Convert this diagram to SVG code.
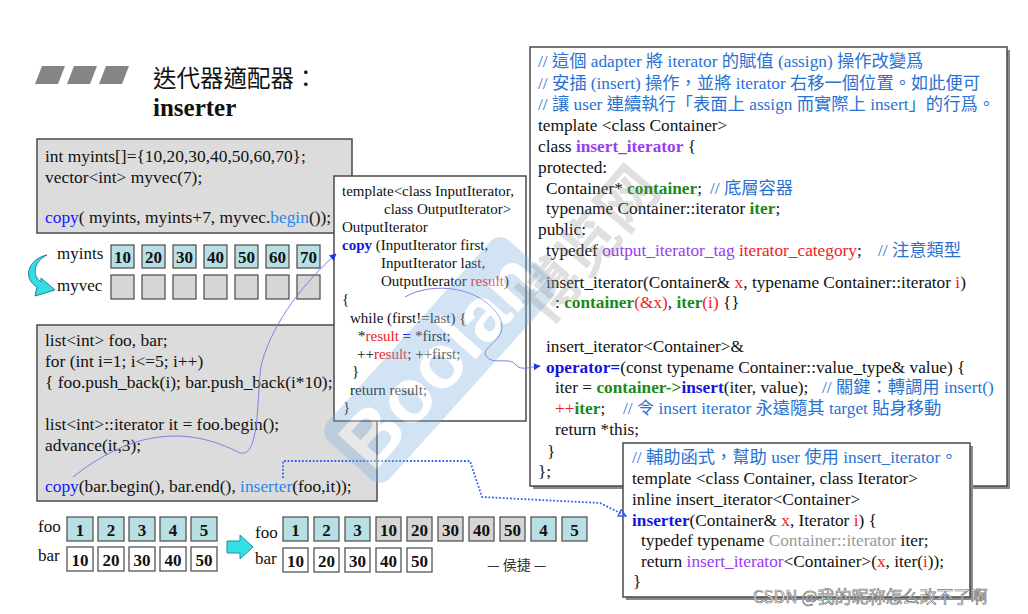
<svg xmlns="http://www.w3.org/2000/svg" width="1028" height="614" viewBox="0 0 1028 614">
<defs>
<style>
text{font-family:"Liberation Serif","Noto Sans CJK TC",serif;fill:#111;}
.c17{font-size:17.4px;}
.c16{font-size:17.3px;}
.c15{font-size:15px;}
.grey{fill:#dcdcdc;stroke:#4a4a4a;stroke-width:1.5;}
.white{fill:#fff;stroke:#4a4a4a;stroke-width:1.5;}
.shadow{fill:#8a8a8a;}
.cm{fill:#2a72d2;}
.blue{fill:#1515ff;}
.lblue{fill:#2b86ea;}
.bblue{fill:#1414e0;font-weight:bold;}
.red{fill:#ee2222;}
.green{fill:#198a19;font-weight:bold;}
.purple{fill:#9a3cf0;}
.bpurple{fill:#9a3cf0;font-weight:bold;}
.gtxt{fill:#999;}
.teal{fill:#b8dfe3;stroke:#555;stroke-width:1.3;}
.gcell{fill:#d6d6d6;stroke:#555;stroke-width:1.3;}
.wcell{fill:#fff;stroke:#555;stroke-width:1.3;}
.num{font-size:17px;font-weight:bold;text-anchor:middle;}
.lbl{font-size:17px;}
.thin{fill:none;stroke:#7f7fe6;stroke-width:1;}
.dot{fill:none;stroke:#2f64f0;stroke-width:1.8;stroke-dasharray:1.8 1.8;}
.cjk{font-family:"Noto Sans CJK TC","Liberation Sans",sans-serif;}
</style>
<marker id="ah" viewBox="0 0 10 10" refX="9" refY="5" markerWidth="7" markerHeight="7" orient="auto" markerUnits="userSpaceOnUse">
<path d="M0,0 L10,5 L0,10 Z" fill="#1a3ae0"/>
</marker>
<marker id="ao" viewBox="0 0 10 10" refX="9" refY="5" markerWidth="9" markerHeight="9" orient="auto" markerUnits="userSpaceOnUse">
<path d="M1,1 L9,5 L1,9 Z" fill="none" stroke="#2f64f0" stroke-width="1.5"/>
</marker>
</defs>
<rect width="1028" height="614" fill="#fff"/>

<g id="title">
<polygon points="42,66 65,66 58,84 35,84" fill="#858585"/>
<polygon points="74,66 97,66 90,84 67,84" fill="#858585"/>
<polygon points="106,66 129,66 122,84 99,84" fill="#858585"/>
<text x="153" y="87" class="cjk" style="font-size:23.5px">迭代器適配器：</text>
<text x="153" y="116" style="font-size:25px;font-weight:bold">inserter</text>
</g>

<g id="copy-example">
<rect x="37" y="139" width="315" height="94" class="grey"/>
<text class="c17" x="45" y="162">int myints[]={10,20,30,40,50,60,70};</text>
<text class="c17" x="45" y="183">vector&lt;int&gt; myvec(7);</text>
<text class="c17" x="45" y="223"><tspan class="blue">copy</tspan>( myints, myints+7, myvec.<tspan class="lblue">begin</tspan>());</text>
</g>

<g id="myints-myvec">
<path d="M47,255 C28,259 22,278 37,287 L35,296 L55,290 L41,278 L41,282 C32,276 33,262 47,255 Z" fill="#33dde6" stroke="#2a7f8f" stroke-width="1"/>
<text class="lbl" x="57" y="259">myints</text>
<text class="lbl" x="57" y="291">myvec</text>
<rect x="111" y="245" width="23" height="23" class="teal"/><text class="num" x="122.5" y="263">10</text>
<rect x="142" y="245" width="23" height="23" class="teal"/><text class="num" x="153.5" y="263">20</text>
<rect x="173" y="245" width="23" height="23" class="teal"/><text class="num" x="184.5" y="263">30</text>
<rect x="204" y="245" width="23" height="23" class="teal"/><text class="num" x="215.5" y="263">40</text>
<rect x="235" y="245" width="23" height="23" class="teal"/><text class="num" x="246.5" y="263">50</text>
<rect x="266" y="245" width="23" height="23" class="teal"/><text class="num" x="277.5" y="263">60</text>
<rect x="297" y="245" width="23" height="23" class="teal"/><text class="num" x="308.5" y="263">70</text>
<rect x="111" y="275" width="23" height="24" class="gcell"/>
<rect x="142" y="275" width="23" height="24" class="gcell"/>
<rect x="173" y="275" width="23" height="24" class="gcell"/>
<rect x="204" y="275" width="23" height="24" class="gcell"/>
<rect x="235" y="275" width="23" height="24" class="gcell"/>
<rect x="266" y="275" width="23" height="24" class="gcell"/>
<rect x="297" y="275" width="23" height="24" class="gcell"/>
</g>

<g id="list-example">
<rect x="37" y="325" width="340" height="176" class="grey"/>
<text class="c17" x="45" y="346">list&lt;int&gt; foo, bar;</text>
<text class="c17" x="45" y="367">for (int i=1; i&lt;=5; i++)</text>
<text class="c17" x="45" y="388">{ foo.push_back(i); bar.push_back(i*10);</text>
<text class="c17" x="45" y="430">list&lt;int&gt;::iterator it = foo.begin();</text>
<text class="c17" x="45" y="451">advance(it,3);</text>
<text class="c17" x="45" y="492"><tspan class="blue">copy</tspan>(bar.begin(), bar.end(), <tspan class="lblue">inserter</tspan>(foo,it));</text>
</g>

<g id="copy-template">
<rect x="334" y="176" width="192" height="245" class="white"/>
<text class="c15" x="342" y="196">template&lt;class InputIterator,</text>
<text class="c15" x="384" y="214">class OutputIterator&gt;</text>
<text class="c15" x="342" y="232">OutputIterator</text>
<text class="c15" x="342" y="250"><tspan class="bblue">copy</tspan> (InputIterator first,</text>
<text class="c15" x="381" y="268">InputIterator last,</text>
<text class="c15" x="381" y="286">OutputIterator <tspan class="red">result</tspan>)</text>
<text class="c15" x="342" y="304">{</text>
<text class="c15" x="350" y="323">while (first!=last) {</text>
<text class="c15" x="358" y="341">*<tspan class="red">result</tspan> <tspan class="bblue">=</tspan> *first;</text>
<text class="c15" x="357" y="359">++<tspan class="red">result</tspan>; ++first;</text>
<text class="c15" x="352" y="376">}</text>
<text class="c15" x="350" y="395">return result;</text>
<text class="c15" x="343" y="412">}</text>
</g>

<g id="insert-iterator">
<rect x="533" y="50" width="477" height="439" class="shadow"/>
<rect x="530" y="47" width="477" height="439" class="white"/>
<text class="c16 cm" x="538" y="67">// 這個 adapter 將 iterator 的賦值 (assign) 操作改變爲</text>
<text class="c16 cm" x="538" y="89">// 安插 (insert) 操作，並將 iterator 右移一個位置。如此便可</text>
<text class="c16 cm" x="538" y="110">// 讓 user 連續執行「表面上 assign 而實際上 insert」的行爲。</text>
<text class="c16" x="538" y="131">template &lt;class Container&gt;</text>
<text class="c16" x="538" y="152">class <tspan class="bpurple">insert_iterator</tspan> {</text>
<text class="c16" x="538" y="173">protected:</text>
<text class="c16" x="546" y="194">Container* <tspan class="green">container</tspan>;</text>
<text class="c16 cm" x="710" y="194">// 底層容器</text>
<text class="c16" x="546" y="214">typename Container::iterator <tspan class="green">iter</tspan>;</text>
<text class="c16" x="538" y="235">public:</text>
<text class="c16" x="546" y="256">typedef <tspan class="purple">output_iterator_tag</tspan> <tspan class="red">iterator_category</tspan>;</text>
<text class="c16 cm" x="878" y="256">// 注意類型</text>
<text class="c16" x="546" y="288">insert_iterator(Container&amp; <tspan class="red">x</tspan>, typename Container::iterator <tspan class="red">i</tspan>)</text>
<text class="c16" x="555" y="308">: <tspan class="green">container</tspan><tspan class="red">(&amp;x)</tspan>, <tspan class="green">iter</tspan><tspan class="red">(i)</tspan> {}</text>
<text class="c16" x="546" y="352">insert_iterator&lt;Container&gt;&amp;</text>
<text class="c16" x="546" y="373"><tspan class="bblue">operator=</tspan>(const typename Container::value_type&amp; value) {</text>
<text class="c16" x="555" y="393">iter = <tspan class="green">container-&gt;</tspan><tspan class="bblue">insert</tspan>(iter, value);</text>
<text class="c16 cm" x="822" y="393">// 關鍵：轉調用 insert()</text>
<text class="c16" x="555" y="414"><tspan class="red">++</tspan><tspan class="green">iter</tspan>;</text>
<text class="c16 cm" x="623" y="414">// 令 insert iterator 永遠隨其 target 貼身移動</text>
<text class="c16" x="555" y="435">return *this;</text>
<text class="c16" x="547" y="457">}</text>
<text class="c16" x="538" y="477">};</text>
</g>

<g id="inserter-helper">
<rect x="626" y="446" width="347" height="154" class="shadow"/>
<rect x="623" y="443" width="347" height="154" class="white"/>
<text class="c16 cm" x="632" y="463">// 輔助函式，幫助 user 使用 insert_iterator。</text>
<text class="c16" x="632" y="484">template &lt;class Container, class Iterator&gt;</text>
<text class="c16" x="632" y="505">inline insert_iterator&lt;Container&gt;</text>
<text class="c16" x="632" y="526"><tspan class="bblue">inserter</tspan>(Container&amp; <tspan class="red">x</tspan>, Iterator <tspan class="red">i</tspan>) {</text>
<text class="c16" x="641" y="546">typedef typename <tspan class="gtxt">Container::iterator</tspan> iter;</text>
<text class="c16" x="641" y="567">return <tspan class="purple">insert_iterator</tspan>&lt;Container&gt;(<tspan class="red">x</tspan>, iter(<tspan class="red">i</tspan>));</text>
<text class="c16" x="633" y="587">}</text>
</g>

<g id="foo-bar-before">
<text class="lbl" x="38" y="532">foo</text>
<text class="lbl" x="38" y="561">bar</text>
<rect x="67" y="517" width="26" height="24" class="teal"/><text class="num" x="80" y="536">1</text>
<rect x="98" y="517" width="26" height="24" class="teal"/><text class="num" x="111" y="536">2</text>
<rect x="129" y="517" width="26" height="24" class="teal"/><text class="num" x="142" y="536">3</text>
<rect x="160" y="517" width="26" height="24" class="teal"/><text class="num" x="173" y="536">4</text>
<rect x="191" y="517" width="26" height="24" class="teal"/><text class="num" x="204" y="536">5</text>
<rect x="67" y="547" width="26" height="24" class="wcell"/><text class="num" x="80" y="566">10</text>
<rect x="98" y="547" width="26" height="24" class="wcell"/><text class="num" x="111" y="566">20</text>
<rect x="129" y="547" width="26" height="24" class="wcell"/><text class="num" x="142" y="566">30</text>
<rect x="160" y="547" width="26" height="24" class="wcell"/><text class="num" x="173" y="566">40</text>
<rect x="191" y="547" width="26" height="24" class="wcell"/><text class="num" x="204" y="566">50</text>
</g>

<g id="result-arrow">
<polygon points="227,541 240,541 240,535 253,547 240,559 240,553 227,553" fill="#33e0e8" stroke="#2a8a9a" stroke-width="1"/>
</g>

<g id="foo-bar-after">
<text class="lbl" x="255" y="538">foo</text>
<text class="lbl" x="255" y="564">bar</text>
<rect x="283" y="517" width="25" height="24" class="teal"/><text class="num" x="295.5" y="536">1</text>
<rect x="314" y="517" width="25" height="24" class="teal"/><text class="num" x="326.5" y="536">2</text>
<rect x="345" y="517" width="25" height="24" class="teal"/><text class="num" x="357.5" y="536">3</text>
<rect x="376" y="517" width="25" height="24" class="gcell"/><text class="num" x="388.5" y="536">10</text>
<rect x="407" y="517" width="25" height="24" class="gcell"/><text class="num" x="419.5" y="536">20</text>
<rect x="438" y="517" width="25" height="24" class="gcell"/><text class="num" x="450.5" y="536">30</text>
<rect x="469" y="517" width="25" height="24" class="gcell"/><text class="num" x="481.5" y="536">40</text>
<rect x="500" y="517" width="25" height="24" class="gcell"/><text class="num" x="512.5" y="536">50</text>
<rect x="531" y="517" width="25" height="24" class="teal"/><text class="num" x="543.5" y="536">4</text>
<rect x="562" y="517" width="25" height="24" class="teal"/><text class="num" x="574.5" y="536">5</text>
<rect x="283" y="548" width="25" height="24" class="wcell"/><text class="num" x="295.5" y="567">10</text>
<rect x="314" y="548" width="25" height="24" class="wcell"/><text class="num" x="326.5" y="567">20</text>
<rect x="345" y="548" width="25" height="24" class="wcell"/><text class="num" x="357.5" y="567">30</text>
<rect x="376" y="548" width="25" height="24" class="wcell"/><text class="num" x="388.5" y="567">40</text>
<rect x="407" y="548" width="25" height="24" class="wcell"/><text class="num" x="419.5" y="567">50</text>
<text x="487" y="570" class="cjk" style="font-size:14px;fill:#333">— 侯捷 —</text>
</g>

<g id="connectors">
<path class="thin" d="M73,477 C120,440 175,420 238,452 C262,464 256,385 262,362 C274,320 305,282 336,254" marker-end="url(#ah)"/>
<path class="thin" d="M405,297 C432,281 482,286 500,318 C510,340 480,346 486,356 C492,366 510,356 516,365 C521,371 530,367 540,366" marker-end="url(#ah)"/>
<path class="dot" d="M283,478 L283,461 L470,461 L482,497 L600,503 L626,516" marker-end="url(#ao)"/>
</g>

<g id="watermark">
<g transform="translate(440,360) rotate(-48)" opacity="0.35">
<rect x="-135" y="-42" width="270" height="84" rx="14" fill="#7fb3df"/>
<text x="0" y="26" text-anchor="middle" style="font-family:'Liberation Sans',sans-serif;font-size:76px;font-weight:bold;fill:#fff">Boolan</text>
</g>
<text transform="translate(605,258) rotate(-50)" text-anchor="middle" class="cjk" opacity="0.25" style="font-size:60px;font-weight:bold;fill:#888">博览网</text>
</g>
<text x="753" y="603" style="font-family:'Noto Sans CJK SC','Liberation Sans',sans-serif;font-size:17px;fill:#fff;stroke:#777;stroke-width:0.7">CSDN @我的昵称怎么改不了啊</text>
</svg>
